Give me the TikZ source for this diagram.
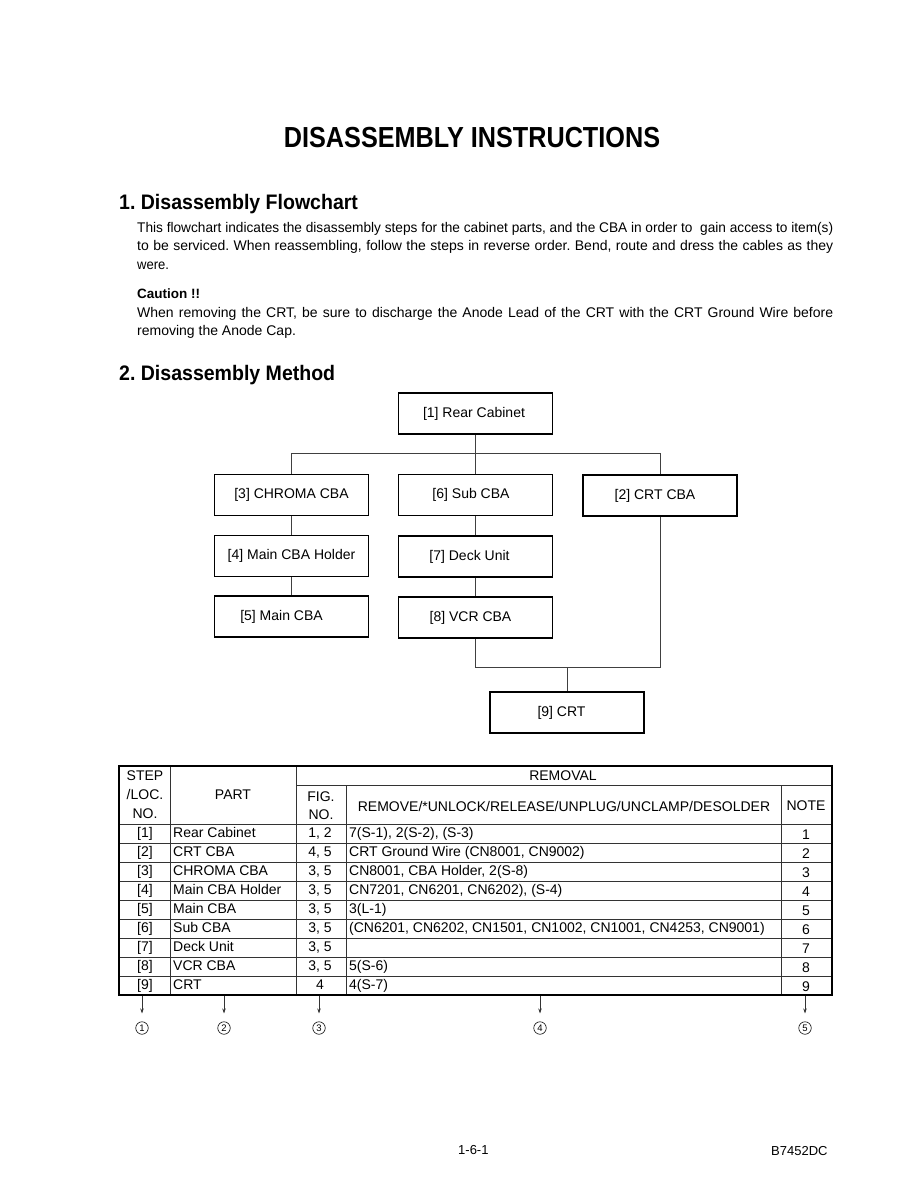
\documentclass[tikz,border=0pt]{standalone}
\usepackage{fontspec}
\usepackage{graphicx}
\setmainfont{Liberation Sans}
\usetikzlibrary{arrows.meta}
\frenchspacing
\newcommand\fitto[2]{\setbox0=\hbox{#2}\ifdim\wd0>#1\relax\resizebox{#1}{\height}{#2}\else\hbox to #1{#2}\fi}
\newcommand\shl[1]{\hspace*{-#1pt}}
\newcommand\trow[6]{%
  \node[cell] (st#1) at (145,#2) {[#1]};
  \node[cell,anchor=west] (pt#1) at (173,#2) {#3};
  \node[cell] (fg#1) at (320,#2) {#4};
  \node[cell,anchor=west] (rm#1) at (349,#2) {#5};
  \node[cell] (nt#1) at (806,#2+2) {#6};
}
\begin{document}
\frenchspacing
\begin{tikzpicture}[x=1pt,y=-1pt,
  box/.style={draw,line width=1.7pt,minimum width=154pt,minimum height=41pt,inner sep=0pt,font=\fontsize{14}{16}\selectfont},
  conn/.style={draw=black!75,line width=0.8pt},
  body/.style={anchor=base west,inner sep=0pt,font=\fontsize{14}{15}\selectfont},
  head/.style={anchor=base west,inner sep=0pt,font=\fontsize{21}{24}\selectfont\bfseries},
  cell/.style={inner sep=0pt,text height=10pt,text depth=3pt,font=\fontsize{14}{16}\selectfont},
  hcell/.style={inner sep=0pt,align=center,font=\fontsize{14}{19}\selectfont},
  tline/.style={draw=black!80,line width=0.7pt},
  circ/.style={circle,draw,line width=0.6pt,minimum size=12.5pt,inner sep=0pt,font=\fontsize{9.5}{10}\selectfont},
  darr/.style={draw=black!80,line width=0.7pt,-{Stealth[length=5pt,width=3.5pt]}}]
\useasboundingbox[fill=white] (0,0) rectangle (918,1188);

% title and text
\node[inner sep=0pt] (title) at (472,138) {\scalebox{0.87}[1]{\fontsize{29}{29}\selectfont\bfseries DISASSEMBLY INSTRUCTIONS}};
\node[head] (h1) at (119,209) {\scalebox{0.93}[1]{1. Disassembly Flowchart}};
\node[body] (p1) at (137,232) {\fitto{696pt}{This flowchart indicates the disassembly steps for the cabinet parts, and the CBA in order to\ \ gain access to item(s)}};
\node[body] (p2) at (137,250.5) {\fitto{696pt}{to be serviced. When reassembling, follow the steps in reverse order. Bend, route and dress the cables as they}};
\node[body] (p3) at (137,269) {\scalebox{0.93}[1]{were.}};
\node[body,font=\fontsize{13.5}{15}\selectfont\bfseries] (ca) at (137,298) {Caution !!};
\node[body] (c1) at (137,317) {\fitto{696pt}{When removing the CRT, be sure to discharge the Anode Lead of the CRT with the CRT Ground Wire before}};
\node[body] (c2) at (137,335.5) {removing the Anode Cap.};
\node[head] (h2) at (119,380) {\scalebox{0.93}[1]{2. Disassembly Method}};

% flowchart
\node[box] (b1) at (475.5,413.5) {\shl{3}[1] Rear Cabinet};
\node[box] (b3) at (291.5,495) {[3] CHROMA CBA};
\node[box] (b6) at (475.5,495) {\shl{9}[6] Sub CBA};
\node[box] (b2) at (660,495.5) {\shl{10}[2] CRT CBA};
\node[box] (b4) at (291.5,556) {[4] Main CBA Holder};
\node[box] (b7) at (475.5,556.5) {\shl{12}[7] Deck Unit};
\node[box] (b5) at (291.5,616.5) {\shl{20}[5] Main CBA};
\node[box] (b8) at (475.5,617.5) {\shl{10}[8] VCR CBA};
\node[box] (b9) at (567,712.5) {\shl{11}[9] CRT};
\coordinate (bus) at (475.5,453);
\coordinate (join) at (567,667);
\draw[conn] (b1.south) -- (b6.north);
\draw[conn] (b3.north) -- (b3.north |- bus) -- (b2.north |- bus) -- (b2.north);
\draw[conn] (b3.south) -- (b4.north);
\draw[conn] (b4.south) -- (b5.north);
\draw[conn] (b6.south) -- (b7.north);
\draw[conn] (b7.south) -- (b8.north);
\draw[conn] (b8.south) -- (b8.south |- join) -- (b2.south |- join) -- (b2.south);
\draw[conn] (join) -- (b9.north);

% table
\draw[tline] (170,766) -- (170,995);
\draw[tline] (296,766) -- (296,995);
\draw[tline] (346,785) -- (346,995);
\draw[tline] (781,785) -- (781,995);
\draw[tline] (296,785) -- (832,785);
\draw[tline] (119,824) -- (832,824);
\foreach \yy in {843,862,881,900,919,938,957,976} \draw[tline] (119,\yy) -- (832,\yy);
\draw[line width=1.7pt] (119,766) rectangle (832,995);

\node[hcell] (hstep) at (145,794.5) {STEP\\/LOC.\\NO.};
\node[hcell] (hpart) at (233,795) {PART};
\node[hcell] (hrem) at (563,776) {REMOVAL};
\node[hcell,font=\fontsize{14}{18}\selectfont] (hfig) at (321,805.5) {FIG.\\NO.};
\node[hcell] (hrm) at (564,806) {REMOVE/*UNLOCK/RELEASE/UNPLUG/UNCLAMP/DESOLDER};
\node[hcell] (hnote) at (806,806) {NOTE};

\trow{1}{834}{Rear Cabinet}{1, 2}{7(S-1), 2(S-2), (S-3)}{1}
\trow{2}{853}{CRT CBA}{4, 5}{CRT Ground Wire (CN8001, CN9002)}{2}
\trow{3}{872}{CHROMA CBA}{3, 5}{CN8001, CBA Holder, 2(S-8)}{3}
\trow{4}{891}{Main CBA Holder}{3, 5}{CN7201, CN6201, CN6202), (S-4)}{4}
\trow{5}{910}{Main CBA}{3, 5}{3(L-1)}{5}
\trow{6}{929}{Sub CBA}{3, 5}{(CN6201, CN6202, CN1501, CN1002, CN1001, CN4253, CN9001)}{6}
\trow{7}{948}{Deck Unit}{3, 5}{}{7}
\trow{8}{967}{VCR CBA}{3, 5}{5(S-6)}{8}
\trow{9}{986}{CRT}{4}{4(S-7)}{9}

% column arrows
\node[circ] (k1) at (142,1028) {1};
\node[circ] (k2) at (224,1028) {2};
\node[circ] (k3) at (319,1028) {3};
\node[circ] (k4) at (540,1028) {4};
\node[circ] (k5) at (805,1028) {5};
\foreach \i/\xx in {1/142,2/224,3/319,4/540,5/805} {
  \coordinate (t\i) at (\xx,996);
  \draw[darr,shorten >=8pt] (t\i) -- (k\i.north) ;
}

% footer
\node[body,font=\fontsize{13}{15}\selectfont] (pg) at (458,1154) {1-6-1};
\node[body,font=\fontsize{13}{15}\selectfont] (doc) at (771,1155) {B7452DC};
\end{tikzpicture}
\end{document}
